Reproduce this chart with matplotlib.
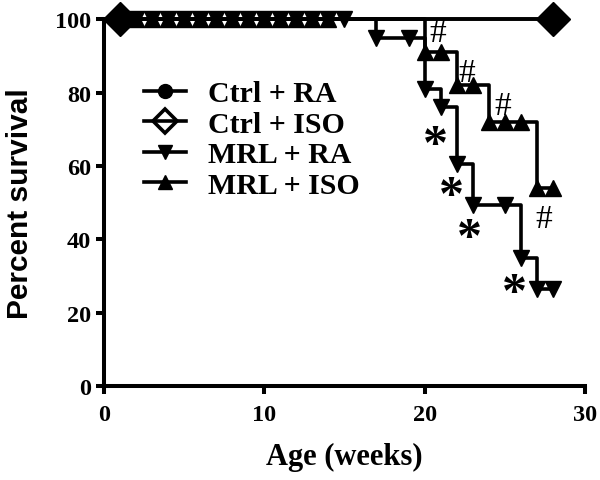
import matplotlib
matplotlib.use("Agg")
import matplotlib.pyplot as plt
from matplotlib.lines import Line2D

# ---- data ----
ctrl_weeks = [0, 1, 28]
ctrl_ra = [100, 100, 100]
ctrl_iso = [100, 100, 100]

mrl_ra_weeks = [0, 2, 3, 4, 5, 6, 7, 8, 9, 10, 11, 12, 13, 14, 15, 17, 19, 20, 21, 22, 23, 25, 26, 27, 28]
mrl_ra_surv = [100] * 15 + [95, 95, 81, 76, 60.5, 49.5, 49.5, 35, 26.5, 26.5]

mrl_iso_weeks = [0, 2, 3, 4, 5, 6, 7, 8, 9, 10, 11, 12, 13, 14, 20, 21, 22, 23, 24, 25, 26, 27, 28]
mrl_iso_surv = [100] * 14 + [91, 91, 82, 82, 72, 72, 72, 54, 54]

labels = ["Ctrl + RA", "Ctrl + ISO", "MRL + RA", "MRL + ISO"]

hash_pos = [(20.8, 96.2), (22.6, 85.3), (24.9, 76.3), (27.4, 45.5)]
star_pos = [(20.7, 65.5), (21.7, 51.5), (22.8, 40), (25.6, 25)]

serif = "Liberation Serif"
sans = "Liberation Sans"

fig = plt.figure(figsize=(6.0, 4.81), dpi=100)
ax = fig.add_axes([0.173, 0.195, 0.802, 0.763])

lw = 2.6
ms = 12

ax.plot(ctrl_weeks, ctrl_ra, drawstyle="steps-post", color="black", lw=lw,
        marker="o", markevery=[1, 2], ms=12, clip_on=False, zorder=3)
ax.plot(ctrl_weeks, ctrl_iso, drawstyle="steps-post", color="black", lw=lw,
        marker="D", markevery=[1, 2], ms=17, mfc="black", mec="black", clip_on=False, zorder=4)

ax.plot(mrl_ra_weeks, mrl_ra_surv, drawstyle="steps-post", color="black", lw=lw,
        marker="v", markevery=list(range(1, len(mrl_ra_weeks))), ms=ms, clip_on=False, zorder=3)
ax.plot(mrl_iso_weeks, mrl_iso_surv, drawstyle="steps-post", color="black", lw=lw,
        marker="^", markevery=list(range(1, len(mrl_iso_weeks))), ms=ms, clip_on=False, zorder=3)

for (x, y) in hash_pos:
    ax.text(x, y, "#", fontsize=24, family=serif, ha="center", va="center")
for (x, y) in star_pos:
    ax.text(x, y, "*", fontsize=36, family=serif, fontweight="bold", ha="center", va="center")

ax.set_xlim(0, 30)
ax.set_ylim(0, 100)
ax.set_xticks([0, 10, 20, 30])
ax.set_yticks([0, 20, 40, 60, 80, 100])
for s in ["top", "right"]:
    ax.spines[s].set_visible(False)
for s in ["left", "bottom"]:
    ax.spines[s].set_linewidth(2.9)
ax.tick_params(width=2.9, length=6, labelsize=17.5, pad=3)
ax.tick_params(axis="x", pad=7)
for lab in ax.get_xticklabels() + ax.get_yticklabels():
    lab.set_family(serif)
    lab.set_fontweight("bold")

ax.set_xlabel("Age (weeks)", family=serif, fontweight="bold", fontsize=22, labelpad=12)
ax.set_ylabel("Percent survival", family=sans, fontweight="bold", fontsize=21.5, labelpad=15)

handles = [
    Line2D([], [], color="black", lw=lw, marker="o", ms=10),
    Line2D([], [], color="black", lw=lw, marker="D", ms=12, mfc="none", mew=2.6),
    Line2D([], [], color="black", lw=lw, marker="v", ms=10),
    Line2D([], [], color="black", lw=lw, marker="^", ms=10),
]
ax.legend(handles, labels, loc="upper left", bbox_to_anchor=(0.053, 0.875), frameon=False,
          prop={"family": serif, "weight": "bold", "size": 21.5}, handlelength=1.4,
          handletextpad=0.75, labelspacing=0.12, borderpad=0)

fig.savefig("out.png", dpi=100)
